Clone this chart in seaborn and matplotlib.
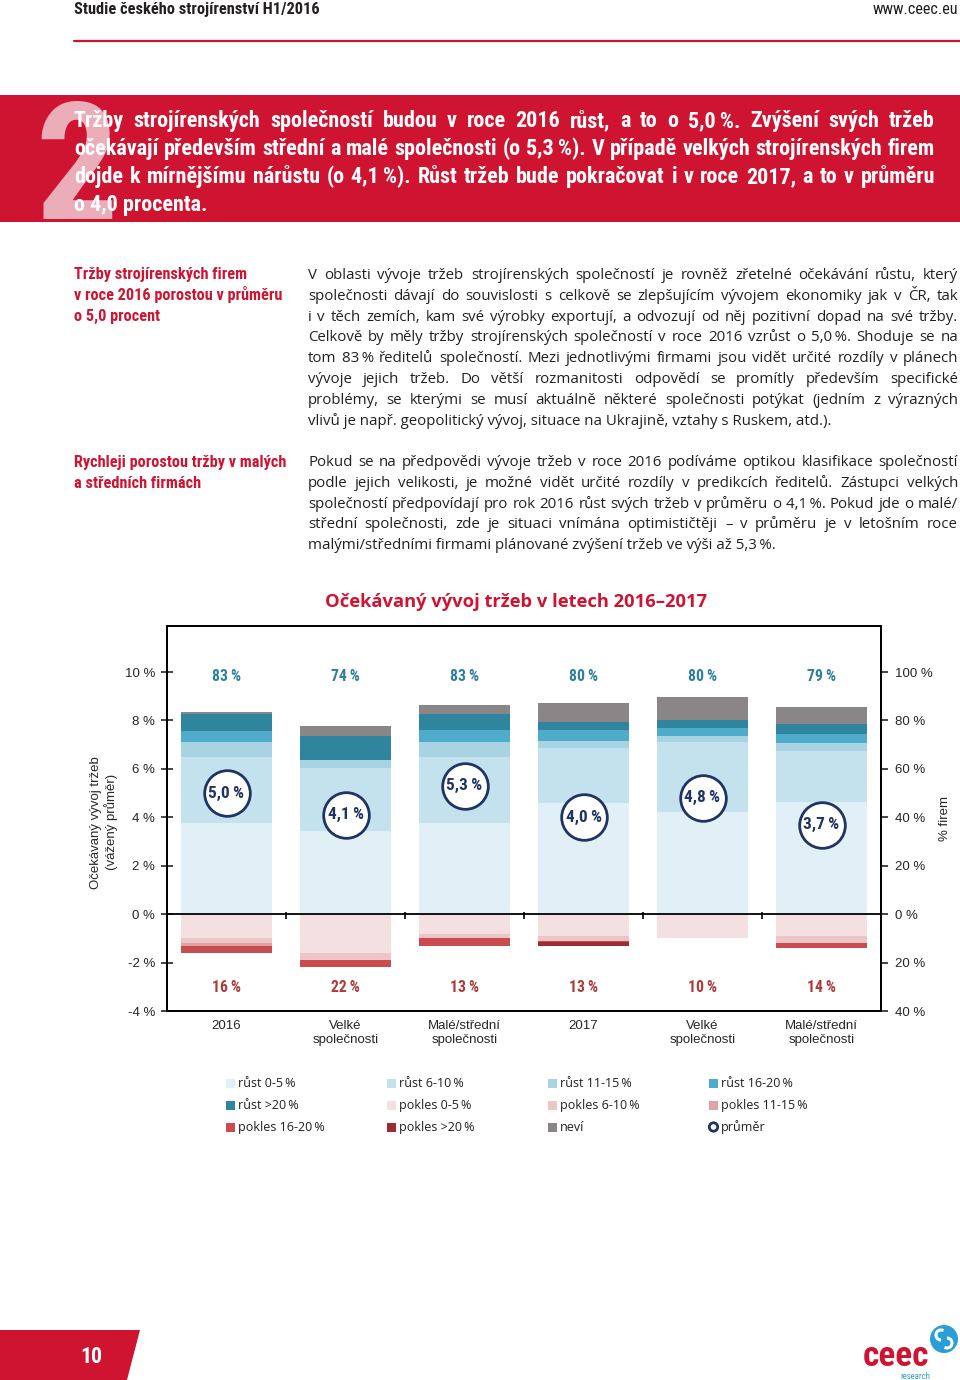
import matplotlib.pyplot as plt
import matplotlib.patches as mpatches
import numpy as np
import seaborn as sns
from matplotlib import font_manager

# ---- data (percent of firms) ----
skupiny = ['2016', 'Velké\nspolečnosti', 'Malé/střední\nspolečnosti',
           '2017', 'Velké\nspolečnosti', 'Malé/střední\nspolečnosti']
pozice = np.arange(len(skupiny))

rust_0_5 = [37.5, 34.5, 37.5, 46.0, 42.0, 46.5]
rust_6_10 = [27.5, 26.0, 27.5, 22.5, 29.0, 21.0]
rust_11_15 = [6.0, 3.0, 6.0, 3.0, 2.5, 3.0]
rust_16_20 = [4.5, 0.0, 5.0, 4.5, 3.5, 4.0]
rust_nad_20 = [7.0, 10.0, 6.5, 3.5, 3.0, 4.0]
nevi = [1.0, 4.0, 4.0, 7.5, 9.5, 7.0]

pokles_0_5 = [10.0, 16.0, 8.0, 9.0, 10.0, 9.0]
pokles_6_10 = [2.0, 3.0, 2.0, 2.0, 0.0, 3.0]
pokles_11_15 = [1.0, 0.0, 0.0, 0.0, 0.0, 0.0]
pokles_16_20 = [3.0, 3.0, 3.0, 0.5, 0.0, 2.0]
pokles_nad_20 = [0.0, 0.0, 0.0, 1.5, 0.0, 0.0]

rust_celkem = [83, 74, 83, 80, 80, 79]
pokles_celkem = [16, 22, 13, 13, 10, 14]
prumer = [5.0, 4.1, 5.3, 4.0, 4.8, 3.7]   # vážený průměr, % růstu tržeb

osa_levo = [-40, -20, 0, 20, 40, 60, 80, 100]

barvy = {
    'růst 0-5 %': '#e1f0f7',
    'růst 6-10 %': '#c4e2ed',
    'růst 11-15 %': '#a7d3e3',
    'růst 16-20 %': '#4eabc9',
    'růst >20 %': '#2f859e',
    'pokles 0-5 %': '#f4dfe1',
    'pokles 6-10 %': '#ebc5c7',
    'pokles 11-15 %': '#dfa3a5',
    'pokles 16-20 %': '#c94c4e',
    'pokles >20 %': '#9d2b2f',
    'neví': '#8a8687',
}
NAVY = '#1f3463'
RED = '#cf1432'
TEAL_TXT = '#2f7f9c'
RED_TXT = '#b0393c'
BODY = '#231f20'
TS = '\u2009'  # thin space before %

rust_vrstvy = [('růst 0-5 %', rust_0_5), ('růst 6-10 %', rust_6_10),
               ('růst 11-15 %', rust_11_15), ('růst 16-20 %', rust_16_20),
               ('růst >20 %', rust_nad_20), ('neví', nevi)]
pokles_vrstvy = [('pokles 0-5 %', pokles_0_5), ('pokles 6-10 %', pokles_6_10),
                 ('pokles 11-15 %', pokles_11_15), ('pokles 16-20 %', pokles_16_20),
                 ('pokles >20 %', pokles_nad_20)]

# ---- page texts ----
banner = [
    'Tržby strojírenských společností budou v roce 2016 růst, a to o 5,0 %. Zvýšení svých tržeb',
    'očekávají především střední a malé společnosti (o 5,3 %). V případě velkých strojírenských firem',
    'dojde k mírnějšímu nárůstu (o 4,1 %). Růst tržeb bude pokračovat i v roce 2017, a to v průměru',
    'o 4,0 procenta.',
]
nadpis1 = ['Tržby strojírenských firem', 'v roce 2016 porostou v průměru', 'o 5,0 procent']
nadpis2 = ['Rychleji porostou tržby v malých', 'a středních firmách']
odst1 = [
    'V oblasti vývoje tržeb strojírenských společností je rovněž zřetelné očekávání růstu, který',
    'společnosti dávají do souvislosti s celkově se zlepšujícím vývojem ekonomiky jak v ČR, tak',
    'i v těch zemích, kam své výrobky exportují, a odvozují od něj pozitivní dopad na své tržby.',
    'Celkově by měly tržby strojírenských společností v roce 2016 vzrůst o 5,0 %. Shoduje se na',
    'tom 83 % ředitelů společností. Mezi jednotlivými firmami jsou vidět určité rozdíly v plánech',
    'vývoje jejich tržeb. Do větší rozmanitosti odpovědí se promítly především specifické',
    'problémy, se kterými se musí aktuálně některé společnosti potýkat (jedním z výrazných',
    'vlivů je např. geopolitický vývoj, situace na Ukrajině, vztahy s Ruskem, atd.).',
]
odst2 = [
    'Pokud se na předpovědi vývoje tržeb v roce 2016 podíváme optikou klasifikace společností',
    'podle jejich velikosti, je možné vidět určité rozdíly v predikcích ředitelů. Zástupci velkých',
    'společností předpovídají pro rok 2016 růst svých tržeb v průměru o 4,1 %. Pokud jde o malé/',
    'střední společnosti, zde je situaci vnímána optimističtěji – v průměru je v letošním roce',
    'malými/středními firmami plánované zvýšení tržeb ve výši až 5,3 %.',
]

# ---- fonts ----
sns.set_style('white')
plt.rcParams['font.family'] = ['Liberation Sans', 'DejaVu Sans']

seznam = font_manager.fontManager.ttflist
nazvy = {f.name for f in seznam}
COND = None
for n in ['Roboto Condensed', 'Open Sans Condensed', 'Liberation Sans Narrow',
          'Noto Sans Condensed', 'DejaVu Sans Condensed']:
    if n in nazvy:
        COND = dict(family=[n, 'DejaVu Sans'])
        break
if COND is None:
    if any(f.name == 'DejaVu Sans' and f.stretch == 'condensed' for f in seznam):
        COND = dict(family='DejaVu Sans', stretch='condensed')
    else:
        COND = dict(family=['Roboto', 'DejaVu Sans'])
COND_B = dict(COND, fontweight='bold')
TEXT = dict(family=['Open Sans', 'DejaVu Sans'])

fig = plt.figure(figsize=(9.6, 13.8), dpi=100)
renderer = fig.canvas.get_renderer()

# page axes in pixel units (y down)
page = fig.add_axes([0, 0, 1, 1])
page.set_xlim(0, 960)
page.set_ylim(1380, 0)
page.axis('off')


def sirka(s, size, **kw):
    t = page.text(0, 0, s, fontsize=size, **kw)
    w = t.get_window_extent(renderer).width
    t.remove()
    return w


def velikost(s, target, **kw):
    return 20 * target / sirka(s, 20, **kw)


def odstavec(lines, x0, x1, y0, step, size, **kw):
    # justified block, last line left aligned
    for i, line in enumerate(lines):
        y = y0 + i * step
        words = line.split(' ')
        if i == len(lines) - 1:
            page.text(x0, y, line, fontsize=size, va='baseline', **kw)
            continue
        ws = [sirka(w, size, **kw) for w in words]
        gap = (x1 - x0 - sum(ws)) / (len(words) - 1)
        x = x0
        for w, wd in zip(words, ws):
            page.text(x, y, w, fontsize=size, va='baseline', **kw)
            x += wd + gap


def tenke(lines):
    return [s.replace(' %', TS + '%') for s in lines]


banner, odst1, odst2 = tenke(banner), tenke(odst1), tenke(odst2)

# header
page.text(74, 14, 'Studie českého strojírenství H1/2016', va='baseline', color=BODY,
          fontsize=velikost('Studie českého strojírenství H1/2016', 244, **COND_B), **COND_B)
page.text(958, 14, 'www.ceec.eu', va='baseline', ha='right', color=BODY,
          fontsize=velikost('www.ceec.eu', 86, **COND), **COND)
page.plot([74, 960], [41, 41], color=RED, lw=1.6)

# red banner
page.add_patch(mpatches.Rectangle((0, 95), 960, 127, color=RED, lw=0))
page.text(35, 219, '2', va='baseline', ha='left', color='#f1c9cf', alpha=0.85,
          fontsize=118, **COND_B)
vel = min(velikost(s, 861, **COND_B) for s in banner[:-1]) * 0.99
odstavec(banner, 74, 935, 127, 28, vel, color='white', **COND_B)

# red side headings
vel = velikost(nadpis1[1], 207, **COND_B)
for i, s in enumerate(nadpis1):
    page.text(74, 279 + i * 21, s, va='baseline', color=RED, fontsize=vel, **COND_B)
for i, s in enumerate(nadpis2):
    page.text(74, 467 + i * 21, s, va='baseline', color=RED, fontsize=vel, **COND_B)

# body paragraphs
vel = min(velikost(s, 650, **TEXT) for s in odst1[:-1] + odst2[:-1]) * 0.99
odstavec(odst1, 308, 958, 279, 20.8, vel, color=BODY, **TEXT)
odstavec(odst2, 308, 958, 466, 20.8, vel, color=BODY, **TEXT)

# chart title
titulek = 'Očekávaný vývoj tržeb v letech 2016–2017'
page.text(516, 607, titulek, ha='center', va='baseline', color=RED, fontweight='bold',
          fontsize=velikost(titulek, 383, family='Open Sans', fontweight='bold'), family='Open Sans')

# ---- chart ----
ax = fig.add_axes([167 / 960, 1 - 1011 / 1380, 714 / 960, 385 / 1380])
ax.set_zorder(2)

kumul = np.cumsum([v for _, v in rust_vrstvy], axis=0)
for (nazev, _), vrch in reversed(list(zip(rust_vrstvy, kumul))):
    sns.barplot(x=pozice, y=vrch, color=barvy[nazev], width=0.765, saturation=1,
                errorbar=None, linewidth=0, ax=ax, zorder=2)
kumul = -np.cumsum([v for _, v in pokles_vrstvy], axis=0)
for (nazev, _), spod in reversed(list(zip(pokles_vrstvy, kumul))):
    sns.barplot(x=pozice, y=spod, color=barvy[nazev], width=0.765, saturation=1,
                errorbar=None, linewidth=0, ax=ax, zorder=2)

ax.axhline(0, color='black', lw=1.3, zorder=3)
ax.vlines(pozice[:-1] + 0.5, -2, 1, color='black', lw=1.2, zorder=3)

# average circles (left axis scale: 1 % growth = 10 units)
sns.scatterplot(x=pozice, y=np.array(prumer) * 10, s=1080, color='white',
                edgecolor=NAVY, linewidth=2, ax=ax, zorder=5, legend=False)

vel_kruh = velikost('5,0' + TS + '%', 36, **COND_B)
vel_hore = velikost('83' + TS + '%', 29, **COND_B)
for i in pozice:
    ax.text(i, prumer[i] * 10, f'{prumer[i]:.1f}'.replace('.', ',') + TS + '%', ha='center',
            va='center', color=NAVY, fontsize=vel_kruh, zorder=6, **COND_B)
    ax.text(i, 98, f'{rust_celkem[i]}{TS}%', ha='center', va='center', color=TEAL_TXT,
            fontsize=vel_hore, zorder=6, **COND_B)
    ax.text(i, -30.5, f'{pokles_celkem[i]}{TS}%', ha='center', va='center', color=RED_TXT,
            fontsize=vel_hore, zorder=6, **COND_B)

ax.set_xlim(-0.5, 5.5)
ax.set_ylim(-40, 119)
ax.set_xticks(pozice)
ax.set_xticklabels(skupiny, fontsize=9.5)
ax.set_yticks(osa_levo)
ax.set_yticklabels([f'{v // 10} %' for v in osa_levo], fontsize=9.5)
ax.tick_params(axis='x', length=0, pad=6.5)
ax.tick_params(axis='y', left=True, direction='inout', length=9, width=1.2, pad=4)
ax.set_xlabel('')
for sp in ax.spines.values():
    sp.set_color('black')
    sp.set_linewidth(1.3)
    sp.set_visible(True)
ax.set_ylabel('Očekávaný vývoj tržeb\n(vážený průměr)', fontsize=9.5, va='center',
              multialignment='center')
ax.yaxis.set_label_coords(-0.088, 0.49)

ax2 = ax.twinx()
ax2.set_zorder(3)
ax2.patch.set_visible(False)
ax2.set_ylim(ax.get_ylim())
ax2.set_yticks(osa_levo)
ax2.set_yticklabels([f'{abs(v)} %' for v in osa_levo], fontsize=9.5)
ax2.tick_params(axis='y', right=True, direction='out', length=5, width=1.2, pad=5)
ax2.grid(False)
for sp in ax2.spines.values():
    sp.set_color('black')
    sp.set_linewidth(1.3)
ax2.set_ylabel('% firem', fontsize=9.5, va='center')
ax2.yaxis.set_label_coords(1.0896, 0.5)

# ---- legend ----
poradi = ['růst 0-5 %', 'růst 6-10 %', 'růst 11-15 %', 'růst 16-20 %', 'růst >20 %',
          'pokles 0-5 %', 'pokles 6-10 %', 'pokles 11-15 %', 'pokles 16-20 %',
          'pokles >20 %', 'neví', 'průměr']
sloupce = [226, 387, 548, 709]
radky = [1083, 1105, 1127]
vel_leg = velikost('pokles 16-20' + TS + '%', 86, **TEXT)
for k, nazev in enumerate(poradi):
    x, y = sloupce[k % 4], radky[k // 4]
    if nazev == 'průměr':
        page.add_patch(mpatches.Circle((x + 4.5, y), 4.2, fill=False, edgecolor=NAVY, lw=2))
    else:
        page.add_patch(mpatches.Rectangle((x, y - 4.5), 9, 9, color=barvy[nazev], lw=0))
    page.text(x + 12, y + 4, nazev.replace(' %', TS + '%'), va='baseline', color=BODY,
              fontsize=vel_leg, **TEXT)

# ---- footer ----
page.add_patch(mpatches.Polygon([(0, 1330), (140, 1330), (127, 1380), (0, 1380)],
                                closed=True, color=RED, lw=0))
page.text(91, 1363, '10', ha='center', va='baseline', color='white',
          fontsize=velikost('10', 22, **COND_B), **COND_B)
page.text(863, 1366, 'ceec', va='baseline', color=RED,
          fontsize=velikost('ceec', 66, **COND_B), **COND_B)
page.text(930, 1379, 'research', ha='right', va='baseline', color='#2a9fd6',
          fontsize=velikost('research', 30, **COND), **COND)
page.add_patch(mpatches.Circle((944, 1339), 14, color='#2a9fd6', lw=0))
page.add_patch(mpatches.Arc((941, 1335), 10, 10, theta1=90, theta2=300, color='white', lw=2.2))
page.add_patch(mpatches.Arc((947, 1343), 10, 10, theta1=270, theta2=120, color='white', lw=2.2))

fig.savefig('out.png', dpi=100)
